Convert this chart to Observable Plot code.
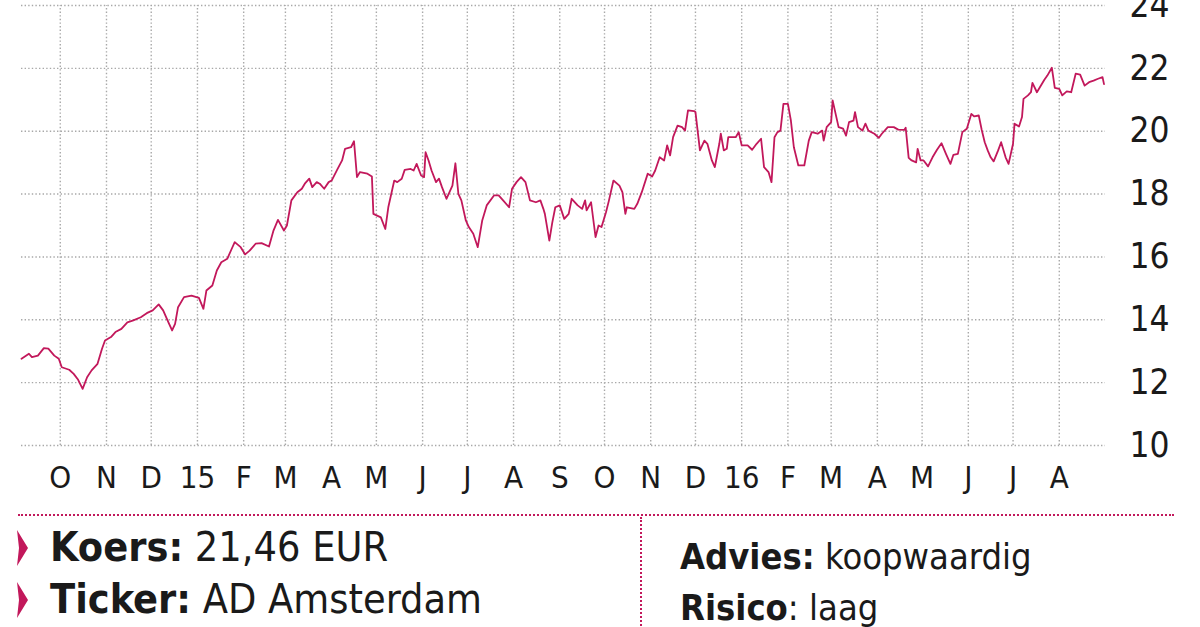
<!DOCTYPE html>
<html><head><meta charset="utf-8">
<script src="https://cdn.jsdelivr.net/npm/d3@7"></script>
<script src="https://cdn.jsdelivr.net/npm/@observablehq/plot@0.6"></script>
<style>
html,body{margin:0;padding:0;background:#fff;}
body{width:1200px;height:627px;overflow:hidden;position:relative;font-family:"DejaVu Sans Condensed","DejaVu Sans",sans-serif;color:#1a1a1a;}
#chart{position:absolute;left:0;top:0;}
.hl{position:absolute;left:18px;top:514px;width:1156px;border-top:2px dotted #c2185b;}
.vl{position:absolute;left:640px;top:517px;height:112px;border-left:2px dotted #c2185b;}
.t{position:absolute;white-space:nowrap;}
.t.l{font-size:41px;line-height:41px;}
.t.r{font-size:36px;line-height:36px;}
.t b{font-weight:bold;}
.mk{position:absolute;left:15px;width:14px;height:36px;}
</style></head><body>
<div id="chart"></div>
<div class="hl"></div>
<div class="vl"></div>
<svg class="mk" style="top:530px" viewBox="0 0 14 36"><path d="M2 0 L13 18 L2 36 L4 18 Z" fill="#c2185b"/></svg>
<svg class="mk" style="top:582px" viewBox="0 0 14 36"><path d="M2 0 L13 18 L2 36 L4 18 Z" fill="#c2185b"/></svg>
<div class="t l" style="left:50px;top:527px"><b>Koers:</b> 21,46 EUR</div>
<div class="t l" style="left:50px;top:579px"><b>Ticker:</b> AD Amsterdam</div>
<div class="t r" style="left:680px;top:539px"><b>Advies:</b> koopwaardig</div>
<div class="t r" style="left:680px;top:590px"><b>Risico</b>: laag</div>
<script>
const dates = [
"2014-09-05","2014-09-10","2014-09-12","2014-09-16","2014-09-20","2014-09-23","2014-09-27","2014-09-30",
"2014-10-02","2014-10-07","2014-10-10","2014-10-13","2014-10-16","2014-10-19","2014-10-22","2014-10-26","2014-10-29","2014-10-31",
"2014-11-04","2014-11-07","2014-11-11","2014-11-15","2014-11-19","2014-11-24","2014-11-28",
"2014-12-02","2014-12-06","2014-12-09","2014-12-13","2014-12-15","2014-12-17","2014-12-19","2014-12-23","2014-12-28",
"2015-01-02","2015-01-05","2015-01-07","2015-01-11","2015-01-14","2015-01-17","2015-01-21","2015-01-24","2015-01-26","2015-01-30",
"2015-02-02","2015-02-05","2015-02-09","2015-02-13","2015-02-18","2015-02-21","2015-02-24","2015-02-28",
"2015-03-02","2015-03-05","2015-03-09","2015-03-12","2015-03-14","2015-03-17","2015-03-19","2015-03-22","2015-03-24","2015-03-27","2015-03-30",
"2015-04-01","2015-04-05","2015-04-08","2015-04-10","2015-04-14","2015-04-16","2015-04-18","2015-04-20","2015-04-25","2015-04-28","2015-04-29",
"2015-05-04","2015-05-07","2015-05-09","2015-05-13","2015-05-15","2015-05-18","2015-05-20","2015-05-24","2015-05-26","2015-05-28","2015-05-31",
"2015-06-02","2015-06-03","2015-06-05","2015-06-07","2015-06-10","2015-06-12","2015-06-14","2015-06-17","2015-06-21","2015-06-23","2015-06-25","2015-06-27","2015-06-30",
"2015-07-02","2015-07-05","2015-07-08","2015-07-11","2015-07-14","2015-07-19","2015-07-22","2015-07-25","2015-07-29","2015-07-31",
"2015-08-03","2015-08-06","2015-08-09","2015-08-12","2015-08-16","2015-08-19","2015-08-21","2015-08-22","2015-08-25","2015-08-27","2015-08-29",
"2015-09-01","2015-09-04","2015-09-07","2015-09-09","2015-09-13","2015-09-16","2015-09-18","2015-09-19","2015-09-22","2015-09-24","2015-09-25","2015-09-27","2015-09-29",
"2015-10-02","2015-10-04","2015-10-07","2015-10-11","2015-10-13","2015-10-15","2015-10-16","2015-10-21","2015-10-23","2015-10-26","2015-10-30",
"2015-11-02","2015-11-04","2015-11-07","2015-11-10","2015-11-12","2015-11-14","2015-11-16","2015-11-19","2015-11-22","2015-11-24","2015-11-26","2015-11-30",
"2015-12-01","2015-12-04","2015-12-07","2015-12-09","2015-12-12","2015-12-14","2015-12-17","2015-12-18","2015-12-20","2015-12-22","2015-12-23","2015-12-28","2015-12-30",
"2016-01-01","2016-01-05","2016-01-08","2016-01-11","2016-01-14","2016-01-16","2016-01-19","2016-01-21","2016-01-23","2016-01-25","2016-01-27","2016-01-29",
"2016-02-01","2016-02-03","2016-02-05","2016-02-08","2016-02-12","2016-02-15","2016-02-17","2016-02-21","2016-02-24","2016-02-25","2016-02-27",
"2016-03-01","2016-03-02","2016-03-04","2016-03-06","2016-03-09","2016-03-11","2016-03-13","2016-03-16","2016-03-17","2016-03-19","2016-03-22","2016-03-24","2016-03-26","2016-03-30",
"2016-04-02","2016-04-04","2016-04-08","2016-04-12","2016-04-15","2016-04-19","2016-04-20","2016-04-22","2016-04-24","2016-04-27","2016-04-28","2016-04-30",
"2016-05-02","2016-05-05","2016-05-08","2016-05-11","2016-05-14","2016-05-17","2016-05-20","2016-05-22","2016-05-25","2016-05-28","2016-05-31",
"2016-06-03","2016-06-05","2016-06-08","2016-06-10","2016-06-12","2016-06-14","2016-06-16","2016-06-18","2016-06-21","2016-06-23","2016-06-24","2016-06-26","2016-06-28",
"2016-07-01","2016-07-02","2016-07-05","2016-07-07","2016-07-08","2016-07-11","2016-07-13","2016-07-14","2016-07-17","2016-07-19","2016-07-22","2016-07-24","2016-07-27","2016-07-29",
"2016-08-01","2016-08-03","2016-08-06","2016-08-09","2016-08-12","2016-08-15","2016-08-18","2016-08-21","2016-08-24","2016-08-27","2016-08-30","2016-08-31"
];
const prices = [
12.76,12.92,12.81,12.86,13.10,13.08,12.86,12.76,
12.49,12.41,12.28,12.09,11.80,12.17,12.39,12.60,13.08,13.34,
13.45,13.61,13.71,13.92,13.98,14.08,14.21,
14.30,14.49,14.30,13.87,13.66,13.87,14.40,14.72,14.77,
14.70,14.35,14.93,15.09,15.57,15.83,15.94,16.26,16.47,16.31,
16.08,16.20,16.42,16.44,16.33,16.84,17.18,16.84,
17.00,17.80,18.06,18.17,18.33,18.49,18.22,18.38,18.33,18.17,18.38,
18.43,18.80,19.07,19.44,19.49,19.68,18.54,18.70,18.65,18.56,17.37,
17.26,16.89,17.58,18.43,18.38,18.49,18.77,18.80,18.75,18.96,18.59,
18.54,19.33,19.07,18.75,18.38,18.49,18.22,17.85,18.27,18.98,18.01,17.80,17.16,
16.95,16.74,16.31,17.16,17.64,17.96,17.96,17.80,17.58,18.17,
18.38,18.54,18.38,17.80,17.74,17.80,17.53,17.37,16.52,17.10,17.58,
17.64,17.21,17.37,17.85,17.64,17.53,17.80,17.48,17.74,17.00,16.63,17.00,16.95,
17.42,17.80,18.43,18.27,18.06,17.37,17.58,17.53,17.69,18.06,18.65,
18.56,18.75,19.17,19.07,19.55,19.23,19.81,20.18,20.13,20.02,20.66,20.64,
20.61,19.39,19.70,19.60,19.07,18.86,19.60,19.92,19.39,19.44,19.81,19.81,19.97,
19.55,19.55,19.41,19.60,19.76,18.86,18.70,18.38,19.81,19.97,20.02,20.87,
20.87,20.34,19.49,18.91,18.91,19.70,19.97,19.92,20.02,19.70,20.13,
20.29,20.98,20.55,20.13,20.08,19.86,20.29,20.34,20.61,20.13,20.02,20.24,20.02,19.92,
19.79,19.92,20.13,20.13,20.05,20.04,20.11,19.15,19.07,19.01,19.44,19.07,
19.07,18.88,19.17,19.41,19.62,19.28,18.96,19.25,19.28,19.97,20.08,
20.55,20.47,20.50,20.04,19.65,19.39,19.17,19.04,19.39,19.65,19.49,19.17,18.96,
19.60,20.24,20.15,20.45,21.03,21.14,21.24,21.54,21.24,21.40,21.64,21.77,22.02,21.38,
21.35,21.14,21.27,21.24,21.83,21.80,21.45,21.56,21.61,21.67,21.72,21.50
];
const yTicks = [10,12,14,16,18,20,22,24];
const monthTicks = ["2014-10-01","2014-11-01","2014-12-01","2015-01-01","2015-02-01","2015-03-01","2015-04-01","2015-05-01","2015-06-01","2015-07-01","2015-08-01","2015-09-01","2015-10-01","2015-11-01","2015-12-01","2016-01-01","2016-02-01","2016-03-01","2016-04-01","2016-05-01","2016-06-01","2016-07-01","2016-08-01"];
const monthLabels = ["O","N","D","15","F","M","A","M","J","J","A","S","O","N","D","16","F","M","A","M","J","J","A"];
const xDomain = ["2014-09-05","2016-09-01"];

const data = dates.map((d,i)=>({date:new Date(d), price:prices[i]}));
const ticks = monthTicks.map(d=>new Date(d));
const labelOf = new Map(ticks.map((d,i)=>[+d, monthLabels[i]]));
const gridStyle = {stroke:"#a8a8a8", strokeWidth:1.4, strokeDasharray:"1.4,2.2"};

const plot = Plot.plot({
  width:1200, height:500,
  marginLeft:21, marginRight:95, marginTop:5, marginBottom:55,
  style:{fontFamily:"'DejaVu Sans Condensed','DejaVu Sans',sans-serif", color:"#1a1a1a", background:"transparent", overflow:"visible"},
  x:{type:"utc", domain:xDomain.map(d=>new Date(d)), label:null},
  y:{domain:[10,24], label:null},
  marks:[
    Plot.ruleY(yTicks, gridStyle),
    Plot.ruleX(ticks, {y1:10, y2:24, ...gridStyle}),
    Plot.axisX(ticks, {tickSize:0, tickPadding:20, fontSize:31, label:null, tickFormat:d=>labelOf.get(+d), fill:"#1a1a1a"}),
    Plot.axisY(yTicks, {anchor:"right", tickSize:0, tickPadding:0, dx:24, fontSize:35, label:null, fill:"#1a1a1a"}),
    Plot.lineY(data, {x:"date", y:"price", stroke:"#c2185b", strokeWidth:1.8, strokeLinejoin:"round"})
  ]
});
document.getElementById("chart").appendChild(plot);
</script>
</body></html>
